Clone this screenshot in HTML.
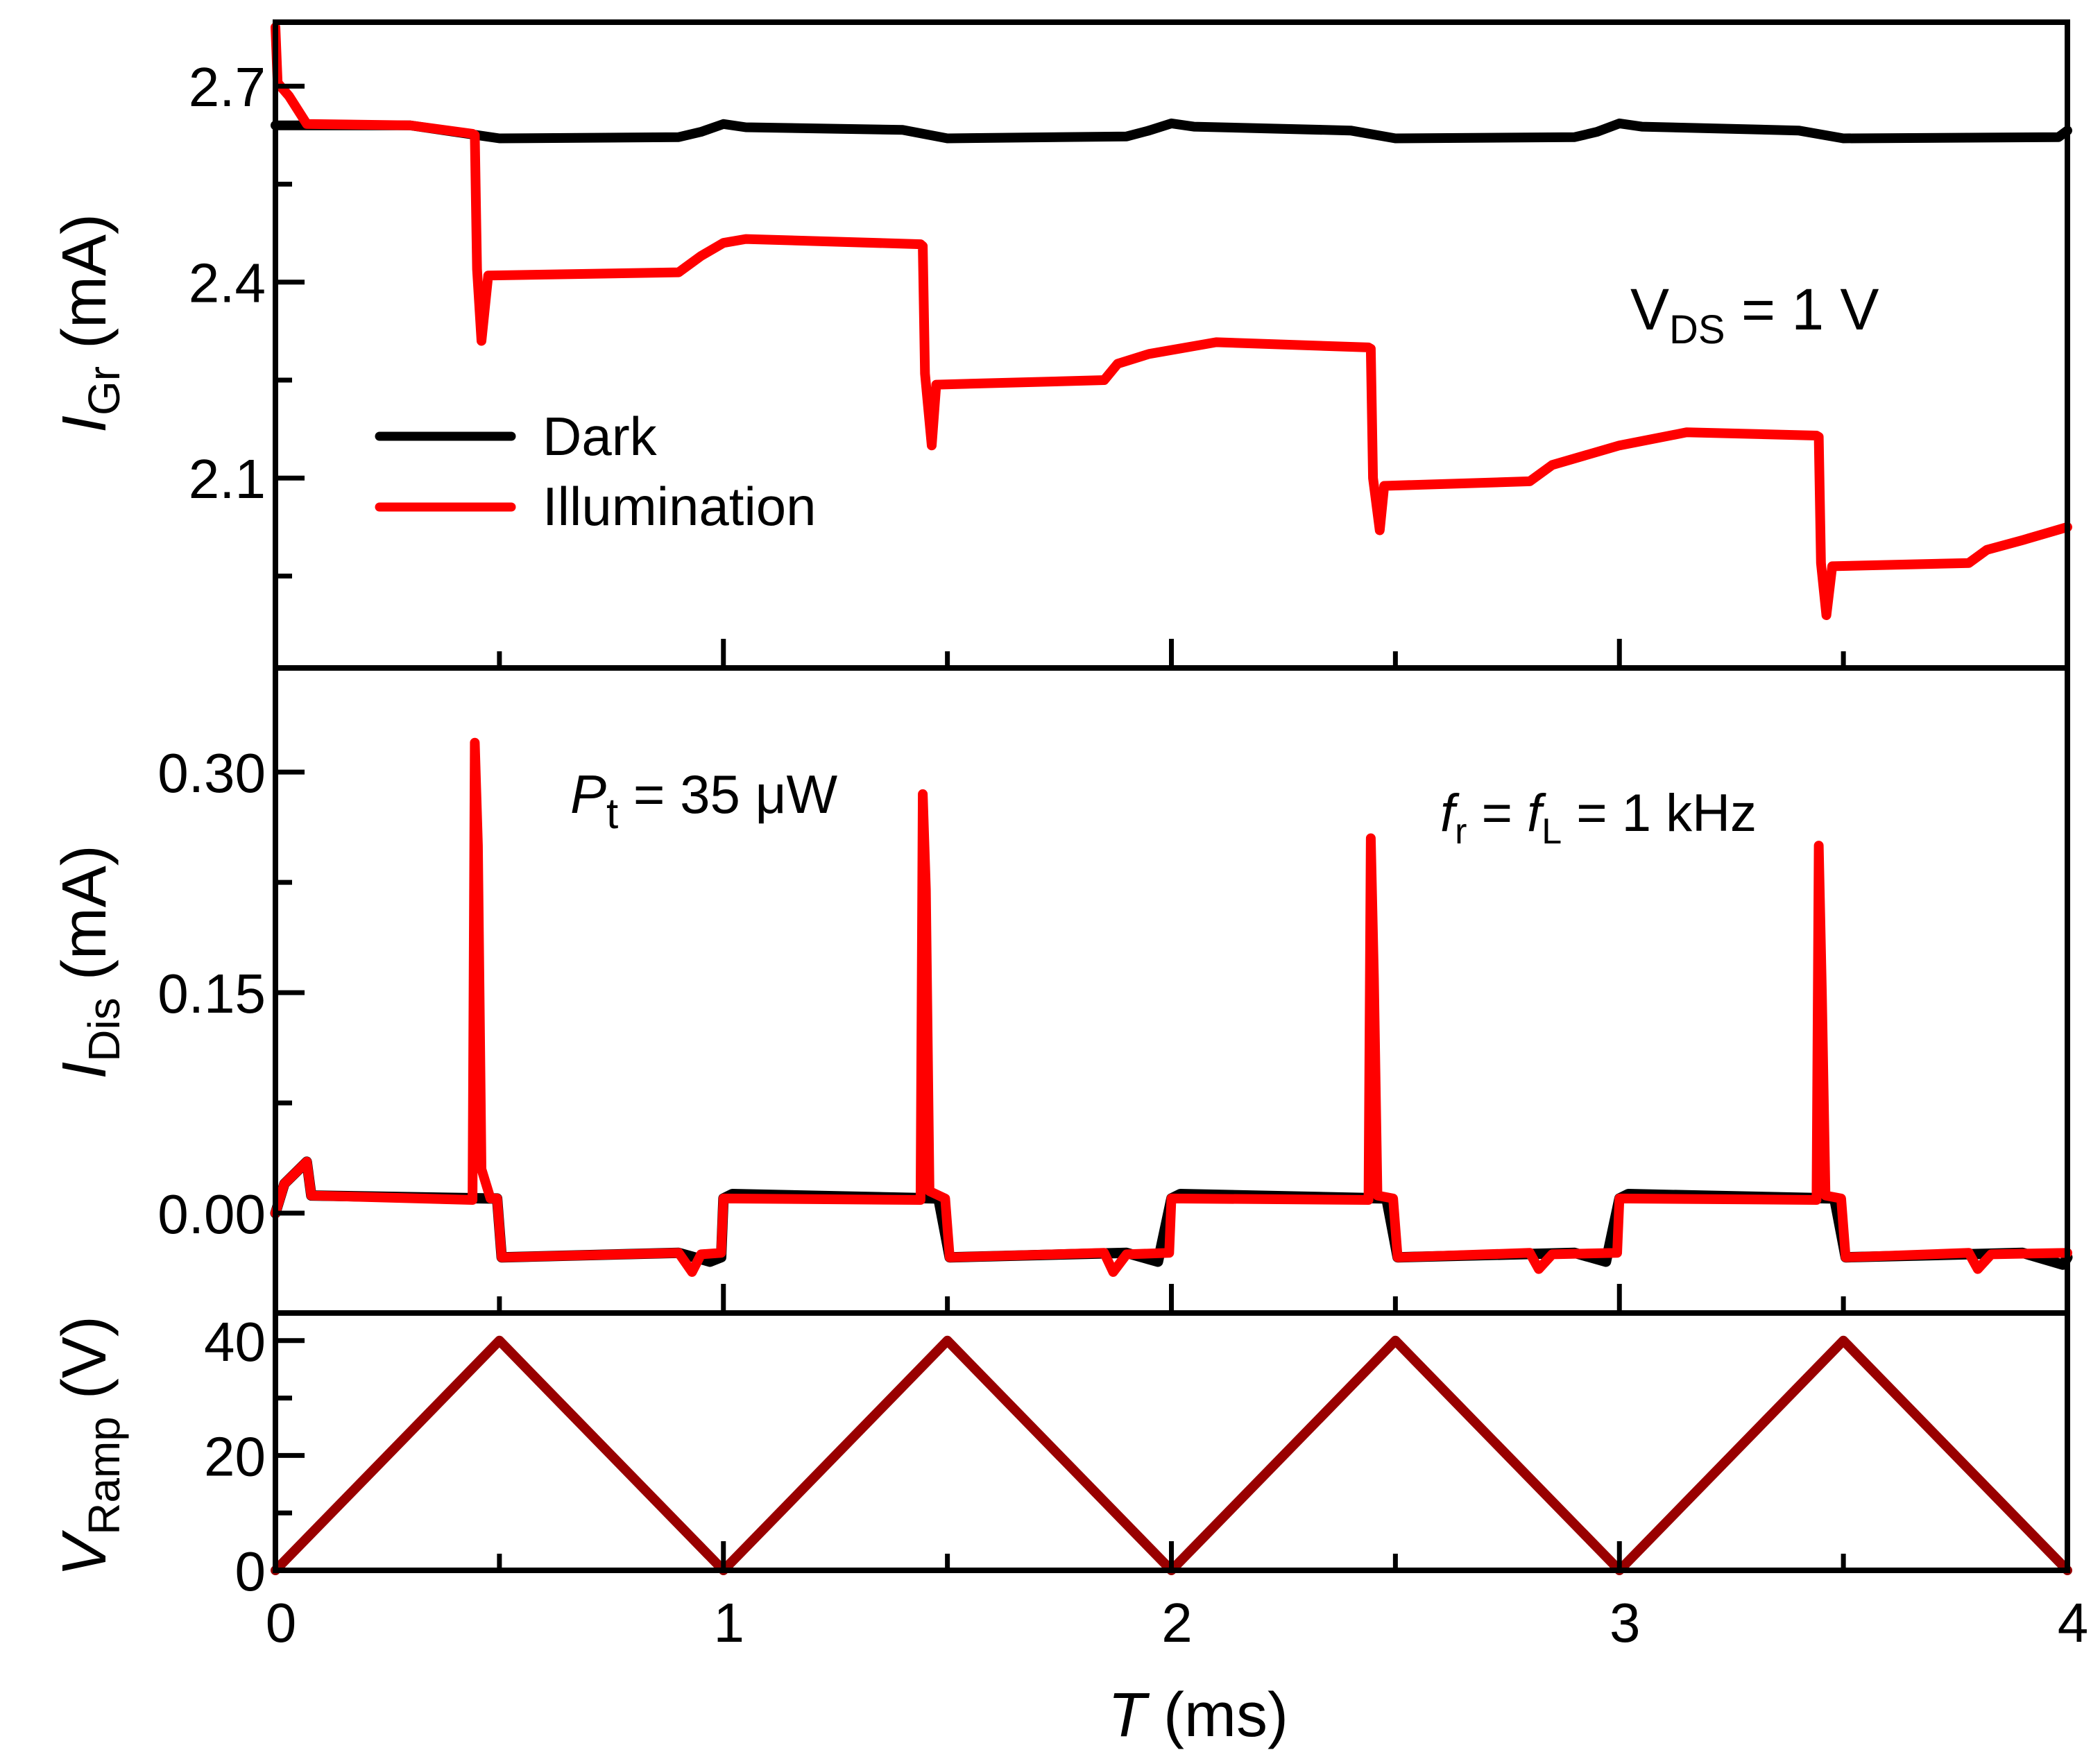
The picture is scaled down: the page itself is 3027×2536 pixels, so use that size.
<!DOCTYPE html>
<html><head><meta charset="utf-8"><style>
html,body{margin:0;padding:0;background:#fff;}
svg{display:block;font-family:"Liberation Sans",sans-serif;}
</style></head><body>
<svg id="chart" width="3027" height="2536" viewBox="0 0 3027 2536" xmlns="http://www.w3.org/2000/svg">
<g id="marks"></g>
<g id="axes"></g>
<g id="labels" fill="#000">
  <text x="2350" y="475" font-size="84">V<tspan font-size="58" dy="20">DS</tspan><tspan dy="-20"> = 1 V</tspan></text>
  <text x="822" y="1172" font-size="78"><tspan font-style="italic">P</tspan><tspan font-size="62" dy="22">t</tspan><tspan dy="-22"> = 35 μW</tspan></text>
  <text x="2076" y="1198" font-size="76"><tspan font-style="italic">f</tspan><tspan font-size="52" dy="18">r</tspan><tspan dy="-18"> = </tspan><tspan font-style="italic">f</tspan><tspan font-size="52" dy="18">L</tspan><tspan dy="-18"> = 1 kHz</tspan></text>
  <g>
    <line x1="547" y1="629" x2="737" y2="629" stroke="#000" stroke-width="13" stroke-linecap="round"/>
    <text x="782" y="656" font-size="78">Dark</text>
    <line x1="547" y1="731" x2="737" y2="731" stroke="#ff0000" stroke-width="13" stroke-linecap="round"/>
    <text x="782" y="757" font-size="78">Illumination</text>
  </g>
  <text transform="translate(152,466) rotate(-90)" text-anchor="middle" font-size="90"><tspan font-style="italic">I</tspan><tspan font-size="64" dy="20">Gr</tspan><tspan dy="-20"> (mA)</tspan></text>
  <text transform="translate(152,1387) rotate(-90)" text-anchor="middle" font-size="90"><tspan font-style="italic">I</tspan><tspan font-size="64" dy="20">Dis</tspan><tspan dy="-20"> (mA)</tspan></text>
  <text transform="translate(152,2085) rotate(-90)" text-anchor="middle" font-size="90"><tspan font-style="italic">V</tspan><tspan font-size="64" dy="20">Ramp</tspan><tspan dy="-20"> (V)</tspan></text>
  <text x="1727" y="2503" text-anchor="middle" font-size="90"><tspan font-style="italic">T</tspan> (ms)</text>
</g>
</svg>
<script>
// ---- data ----
const darkTop = [[0,2.64],[0.3,2.64],[0.45,2.625],[0.5,2.62],[0.9,2.622],[0.95,2.63],[1.0,2.642],[1.05,2.637],[1.4,2.633],[1.5,2.62],[1.9,2.623],[1.95,2.632],[2.0,2.643],[2.05,2.638],[2.4,2.632],[2.5,2.62],[2.9,2.622],[2.95,2.63],[3.0,2.643],[3.05,2.638],[3.4,2.632],[3.5,2.62],[3.98,2.622],[4.0,2.632]];
const illumTop = [[0,2.79],[0.005,2.705],[0.03,2.685],[0.07,2.642],[0.3,2.64],[0.44,2.627],[0.445,2.625],[0.45,2.42],[0.46,2.31],[0.475,2.41],[0.9,2.415],[0.95,2.44],[1.0,2.46],[1.05,2.466],[1.44,2.458],[1.445,2.455],[1.45,2.26],[1.465,2.15],[1.475,2.243],[1.85,2.25],[1.88,2.275],[1.95,2.29],[2.1,2.308],[2.44,2.3],[2.445,2.298],[2.45,2.1],[2.465,2.02],[2.475,2.088],[2.8,2.095],[2.85,2.12],[3.0,2.15],[3.15,2.17],[3.44,2.165],[3.445,2.163],[3.45,1.97],[3.462,1.89],[3.475,1.965],[3.78,1.97],[3.82,1.99],[3.9,2.005],[4.0,2.025]];
const darkMid = [[0,0.0],[0.02,0.02],[0.07,0.035],[0.08,0.012],[0.48,0.01],[0.495,0.01],[0.505,-0.03],[0.9,-0.027],[0.97,-0.033],[0.995,-0.03],[1.0,0.01],[1.02,0.013],[1.48,0.01],[1.505,-0.03],[1.9,-0.027],[1.97,-0.033],[2.0,0.01],[2.02,0.013],[2.48,0.01],[2.505,-0.03],[2.9,-0.027],[2.97,-0.033],[3.0,0.01],[3.02,0.013],[3.48,0.01],[3.505,-0.03],[3.9,-0.027],[3.99,-0.035],[4.0,-0.03]];
const illumMid = [[0,0.0],[0.02,0.02],[0.07,0.035],[0.08,0.012],[0.44,0.009],[0.445,0.32],[0.452,0.25],[0.46,0.03],[0.48,0.01],[0.495,0.01],[0.505,-0.03],[0.9,-0.027],[0.93,-0.04],[0.95,-0.028],[0.995,-0.027],[1.0,0.01],[1.44,0.009],[1.445,0.285],[1.452,0.22],[1.46,0.015],[1.495,0.01],[1.505,-0.03],[1.85,-0.027],[1.87,-0.04],[1.9,-0.028],[1.995,-0.027],[2.0,0.01],[2.44,0.009],[2.445,0.255],[2.452,0.16],[2.46,0.012],[2.495,0.01],[2.505,-0.03],[2.8,-0.027],[2.82,-0.038],[2.85,-0.028],[2.995,-0.027],[3.0,0.01],[3.44,0.009],[3.445,0.25],[3.452,0.15],[3.46,0.012],[3.495,0.01],[3.505,-0.03],[3.78,-0.027],[3.8,-0.038],[3.83,-0.028],[4.0,-0.027]];
const rampT = [0,0.5,1,1.5,2,2.5,3,3.5,4];
const rampV = [0,40,0,40,0,40,0,40,0];
const xTicks = [0,1,2,3,4];
const topTicks = [2.1,2.4,2.7];
const midTicks = [0.00,0.15,0.30];
const botTicks = [0,20,40];

// ---- layout ----
const X0=397, X1=2980;
const panels = {
  top:{y0:32,y1:963,vmin:1.8093,vmax:2.7979},
  mid:{y0:963,y1:1893,vmin:-0.0679,vmax:0.3708},
  bot:{y0:1893,y1:2264,vmin:0,vmax:44.8}
};
const xs = t => X0 + (X1-X0)*t/4;
const ys = (p,v) => p.y1 - (p.y1-p.y0)*(v-p.vmin)/(p.vmax-p.vmin);
const NS="http://www.w3.org/2000/svg";
const marks=document.getElementById('marks'), axes=document.getElementById('axes');
function mk(tag,attrs,parent){const e=document.createElementNS(NS,tag);for(const k in attrs)e.setAttribute(k,attrs[k]);parent.appendChild(e);return e;}
function line(pts,p,color,name,w){
  const d=pts.map((q,i)=>(i?'L':'M')+xs(q[0]).toFixed(1)+','+ys(p,q[1]).toFixed(1)).join('');
  const e=mk('path',{d:d,fill:'none',stroke:color,'stroke-width':w,'stroke-linejoin':'round','stroke-linecap':'round'},marks);
  
  
}
line(darkTop,panels.top,'#000','dark-igr-line',14);
line(illumTop,panels.top,'#ff0000','illum-igr-line',14);
line(darkMid,panels.mid,'#000','dark-idis-line',15);
line(illumMid,panels.mid,'#ff0000','illum-idis-line',14);
line(rampT.map((t,i)=>[t,rampV[i]]),panels.bot,'#990000','vramp-line',14);

for(const key in panels){
  const p=panels[key];
  const r=mk('rect',{x:X0,y:p.y0,width:X1-X0,height:p.y1-p.y0,fill:'none',stroke:'#000','stroke-width':8},axes);
  
  
  for(let t=0.5;t<4;t+=0.5){
    const major = Math.abs(t-Math.round(t))<1e-6;
    const len = major?42:24;
    const tk=mk('line',{x1:xs(t),x2:xs(t),y1:p.y1,y2:p.y1-len,stroke:'#000','stroke-width':7},axes);
    
    
  }
}
function yticks(p,ticks,key,fmt){
  const step=ticks[1]-ticks[0];
  for(let v=ticks[0]-step*2; v<=p.vmax+1e-9; v+=step/2){
    if(v<p.vmin-1e-9) continue;
    const isMajor = ticks.some(t=>Math.abs(t-v)<step*1e-3);
    const y=ys(p,v);
    const tk=mk('line',{x1:X0,x2:X0+(isMajor?42:24),y1:y,y2:y,stroke:'#000','stroke-width':7},axes);
    
    
  }
  ticks.forEach(v=>{
    const tx=mk('text',{x:X0-14,y:ys(p,v)+29,'text-anchor':'end','font-size':80},axes);
    tx.textContent=fmt(v);
    
    
  });
}
yticks(panels.top,topTicks,'top',v=>v.toFixed(1));
yticks(panels.mid,midTicks,'mid',v=>v.toFixed(2));
yticks(panels.bot,botTicks,'bot',v=>v.toFixed(0));
xTicks.forEach(t=>{
  const tx=mk('text',{x:xs(t)+8,y:2367,'text-anchor':'middle','font-size':80},axes);
  tx.textContent=String(t);
  
  
});
</script>
</body></html>
